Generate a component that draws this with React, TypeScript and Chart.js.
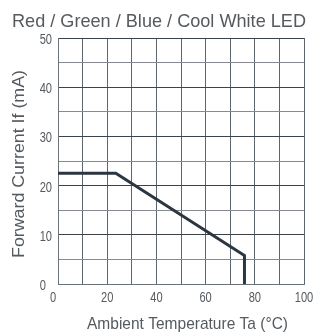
import React, { useEffect, useRef } from "react";
import { Chart, registerables } from "chart.js";

Chart.register(...registerables);

const titleText = "Red / Green / Blue / Cool White LED";
const xTitle = "Ambient Temperature Ta (°C)";
const yTitle = "Forward Current If (mA)";
const tempC = [0, 23.5, 75.8, 75.8];
const currentMA = [22.5, 22.5, 5.8, 0];
const xMin = 0, xMax = 100, xStep = 10;
const xTickLabels = [0, 20, 40, 60, 80, 100];
const yMin = 0, yMax = 50, yStep = 5;
const yTickLabels = [0, 10, 20, 30, 40, 50];

const FONT = "Liberation Sans, Arial, sans-serif";
const TEXT = "#555a5f";

function drawText(
  ctx: CanvasRenderingContext2D,
  text: string,
  x: number,
  y: number,
  size: number,
  scaleX: number,
  align: CanvasTextAlign,
  rotate = false
) {
  ctx.save();
  ctx.translate(x, y);
  if (rotate) ctx.rotate(-Math.PI / 2);
  ctx.scale(scaleX, 1);
  ctx.font = `${size}px ${FONT}`;
  ctx.fillStyle = TEXT;
  ctx.textAlign = align;
  ctx.textBaseline = "alphabetic";
  ctx.fillText(text, 0, 0);
  ctx.restore();
}

function fitScale(ctx: CanvasRenderingContext2D, text: string, size: number, width: number) {
  ctx.save();
  ctx.font = `${size}px ${FONT}`;
  const w = ctx.measureText(text).width;
  ctx.restore();
  return width / w;
}

const textPlugin = {
  id: "condensedText",
  afterDraw(chart: any) {
    const ctx: CanvasRenderingContext2D = chart.ctx;
    const xs = chart.scales.x;
    const ys = chart.scales.y;
    const area = chart.chartArea;
    // title
    drawText(ctx, titleText, 159, 26.5, 19, fitScale(ctx, titleText, 19, 294), "center");
    // y ticks
    yTickLabels.forEach((v) => {
      const y = ys.getPixelForValue(v);
      const x = v === 0 ? 46 : 52;
      drawText(ctx, String(v), x, y + 6, 15, 0.74, "right");
    });
    // x ticks
    xTickLabels.forEach((v) => {
      const x = xs.getPixelForValue(v) + (v === 0 ? -5 : 0);
      drawText(ctx, String(v), x, 302, 15, 0.74, "center");
    });
    // axis titles
    drawText(ctx, xTitle, 187.5, 329, 17, fitScale(ctx, xTitle, 17, 201), "center");
    drawText(ctx, yTitle, 23.5, (area.top + area.bottom) / 2 + 3, 17, fitScale(ctx, yTitle, 17, 188), "center", true);
  },
};

export default function App() {
  const ref = useRef<HTMLCanvasElement>(null);
  useEffect(() => {
    if (!ref.current) return;
    const chart = new Chart(ref.current, {
      type: "scatter",
      data: {
        datasets: [
          {
            data: tempC.map((x, i) => ({ x, y: currentMA[i] })),
            showLine: true,
            borderColor: "#2c3640",
            borderWidth: 3,
            pointRadius: 0,
            fill: false,
            tension: 0,
          },
        ],
      },
      options: {
        animation: false,
        responsive: true,
        maintainAspectRatio: false,
        layout: { padding: { left: 0, right: 10, top: 38, bottom: 0 } },
        plugins: {
          legend: { display: false },
          tooltip: { enabled: false },
          title: { display: false },
        },
        scales: {
          x: {
            type: "linear",
            min: xMin,
            max: xMax,
            ticks: { stepSize: xStep, autoSkip: false, display: false },
            grid: { color: "#5e666d", lineWidth: 1, drawTicks: false },
            border: { display: true, color: "#6b7278", width: 1 },
            afterFit: (s: any) => {
              s.height = 52;
            },
          },
          y: {
            type: "linear",
            min: yMin,
            max: yMax,
            ticks: { stepSize: yStep, autoSkip: false, display: false },
            grid: {
              color: (c: any) => (c.tick && c.tick.value % 10 === 0 ? "#3a424a" : "#858b91"),
              lineWidth: 1,
              drawTicks: false,
            },
            border: { display: true, color: "#6b7278", width: 1 },
            afterFit: (s: any) => {
              s.width = 58;
            },
          },
        },
      },
      plugins: [textPlugin],
    });
    return () => chart.destroy();
  }, []);
  return (
    <div style={{ position: "fixed", left: 0, top: 0, width: 314, height: 336, background: "#fff" }}>
      <canvas ref={ref} />
    </div>
  );
}
